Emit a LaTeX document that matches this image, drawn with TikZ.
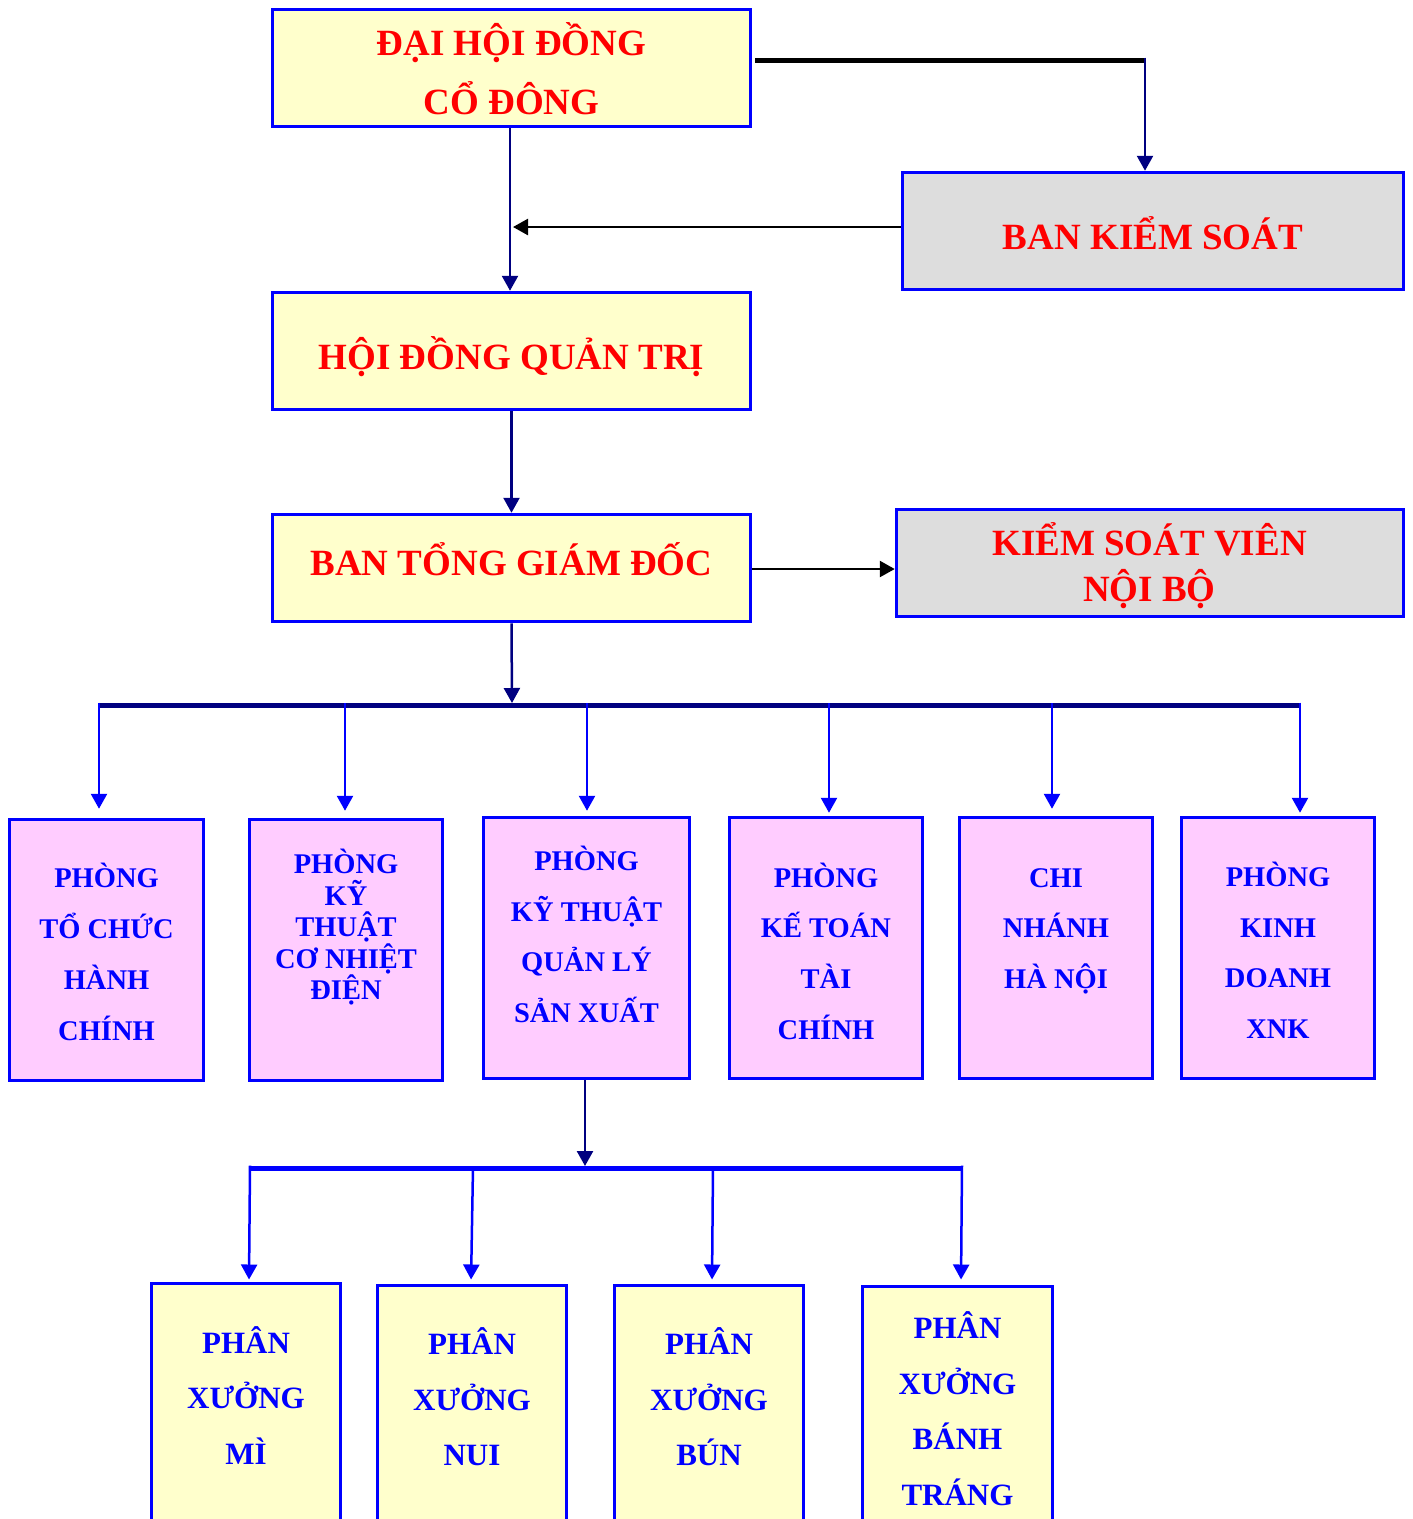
\documentclass[tikz,border=0pt]{standalone}
\usepackage{fontspec}
\setmainfont{Liberation Serif}
\usetikzlibrary{arrows.meta}
\definecolor{boxyellow}{HTML}{FFFFCC}
\definecolor{boxgray}{HTML}{DDDDDD}
\definecolor{boxpink}{HTML}{FFCCFF}
\definecolor{navyline}{HTML}{000080}
\definecolor{txtred}{HTML}{FF0000}
\definecolor{bblue}{HTML}{0000FF}
\newcommand{\nolsl}{\lineskiplimit=-100pt\relax}
\tikzset{
  boxbase/.style={draw=bblue, line width=3.5pt, inner sep=0pt, rectangle},
  ybox/.style={boxbase, fill=boxyellow},
  gbox/.style={boxbase, fill=boxgray},
  pbox/.style={boxbase, fill=boxpink},
  redtxt/.style={text=txtred, align=center, inner sep=0pt, font=\bfseries\fontsize{37}{#1}\selectfont\nolsl},
  bluetxt/.style 2 args={text=bblue, align=center, inner sep=0pt, font=\bfseries\fontsize{#1}{#2}\selectfont\nolsl},
  tip/.style={-{Triangle[length=15pt,width=16pt]}},
  navyarrow/.style={tip, draw=navyline, line width=2.5pt},
  bluearrow/.style={tip, draw=bblue, line width=2.5pt},
  blackarrow/.style={tip, draw=black, line width=2.5pt},
  navybus/.style={draw=navyline, line width=5pt},
  bluebus/.style={draw=bblue, line width=5pt},
  blackbar/.style={draw=black, line width=5pt},
}
\begin{document}
\begin{tikzpicture}[x=1pt,y=-1pt]
\useasboundingbox (0,0) rectangle (1413,1519);
\clip (0,0) rectangle (1413,1519);

% top boxes
\node[ybox, minimum width=478pt, minimum height=117pt] (dh) at (511.5,68) {};
\node[redtxt=59] (dht) at (511.5,73) {\strut ĐẠI HỘI ĐỒNG\\\strut CỔ ĐÔNG};

\node[gbox, minimum width=501pt, minimum height=117pt] (bks) at (1153,231) {};
\node[redtxt=45] (bkst) at (1153,240) {\strut BAN KIỂM SOÁT};

\node[ybox, minimum width=478pt, minimum height=117pt] (hd) at (511.5,351) {};
\node[redtxt=45] (hdt) at (511.5,360) {\strut HỘI ĐỒNG QUẢN TRỊ};

\node[ybox, minimum width=478pt, minimum height=107pt] (bt) at (511.5,568) {};
\node[redtxt=45] (btt) at (511.5,566) {\strut BAN TỔNG GIÁM ĐỐC};

\node[gbox, minimum width=507pt, minimum height=107pt] (ks) at (1150,563) {};
\node[redtxt=46] (kst) at (1149.5,568.5) {\strut KIỂM SOÁT VIÊN\\\strut NỘI BỘ};

% pink row
\node[pbox, minimum width=194pt, minimum height=261pt] (p1) at (106.5,950) {};
\node[bluetxt={28.5}{51}] (p1t) at (106.5,953.7) {\strut PHÒNG\\\strut TỔ CHỨC\\\strut HÀNH\\\strut CHÍNH};

\node[pbox, minimum width=193pt, minimum height=261pt] (p2) at (346,950) {};
\node[bluetxt={28.5}{31.5}] (p2t) at (346,929) {\strut PHÒNG\\\strut KỸ\\\strut THUẬT\\\strut CƠ NHIỆT\\\strut ĐIỆN};

\node[pbox, minimum width=206pt, minimum height=261pt] (p3) at (586.5,948) {};
\node[bluetxt={28.5}{50.7}] (p3t) at (586.5,936.3) {\strut PHÒNG\\\strut KỸ THUẬT\\\strut QUẢN LÝ\\\strut SẢN XUẤT};

\node[pbox, minimum width=193pt, minimum height=261pt] (p4) at (826,948) {};
\node[bluetxt={28.5}{50.7}] (p4t) at (826,953) {\strut PHÒNG\\\strut KẾ TOÁN\\\strut TÀI\\\strut CHÍNH};

\node[pbox, minimum width=193pt, minimum height=261pt] (p5) at (1056,948) {};
\node[bluetxt={28.5}{50.7}] (p5t) at (1056,927.6) {\strut CHI\\\strut NHÁNH\\\strut HÀ NỘI};

\node[pbox, minimum width=193pt, minimum height=261pt] (p6) at (1278,948) {};
\node[bluetxt={28.5}{50.7}] (p6t) at (1278,952.3) {\strut PHÒNG\\\strut KINH\\\strut DOANH\\\strut XNK};

% bottom row
\node[ybox, anchor=north, minimum width=189pt, minimum height=238pt] (q1) at (246,1281.5) {};
\node[bluetxt={31}{55.5}] (q1t) at (246,1397.5) {\strut PHÂN\\\strut XƯỞNG\\\strut MÌ};

\node[ybox, anchor=north, minimum width=189pt, minimum height=238pt] (q2) at (472,1283.5) {};
\node[bluetxt={31}{55.5}] (q2t) at (472,1399) {\strut PHÂN\\\strut XƯỞNG\\\strut NUI};

\node[ybox, anchor=north, minimum width=189pt, minimum height=238pt] (q3) at (709,1283.5) {};
\node[bluetxt={31}{55.5}] (q3t) at (709,1399) {\strut PHÂN\\\strut XƯỞNG\\\strut BÚN};

\node[ybox, anchor=north, minimum width=190pt, minimum height=238pt] (q4) at (957.5,1284.5) {};
\node[bluetxt={31}{55.5}] (q4t) at (957.5,1410.7) {\strut PHÂN\\\strut XƯỞNG\\\strut BÁNH\\\strut TRÁNG};

% coordinates
\coordinate (c1) at (1145,60);
\coordinate (m1) at (513,227);
\coordinate (busL) at (99,705);
\coordinate (busR) at (1300,705);
\coordinate (d2) at (345,703);
\coordinate (d3) at (587,703);
\coordinate (d4) at (829,703);
\coordinate (d5) at (1052,703);
\coordinate (busb) at (512,703);
\coordinate (bus2L) at (251,1168);
\coordinate (bus2R) at (962,1168);
\coordinate (e2) at (473,1167);
\coordinate (e3) at (713,1167);
\coordinate (bus2t) at (585,1166);

% connectors top
\draw[blackbar] ([xshift=3pt,yshift=8pt]dh.east) -- (c1);
\draw[navyarrow] ([yshift=2.5pt]c1) -- (c1 |- bks.north);
\draw[navyarrow] (dh.south -| 510,0) -- (hd.north -| 510,0);
\draw[blackarrow] ([yshift=4pt]bks.west) -- (m1);
\draw[navyarrow] (hd.south) -- (bt.north);
\draw[blackarrow] ([yshift=-1pt]bt.east) -- ([yshift=-1pt]bt.east -| ks.west);
\draw[navyarrow] (bt.south) -- (busb);

% bus 1
\draw[navybus] (busL) -- (busR);
\draw[bluearrow, shorten >=9pt] ([yshift=2.5pt]busL) -- (busL |- p1.north);
\draw[bluearrow, shorten >=7pt] (d2) -- (d2 |- p2.north);
\draw[bluearrow, shorten >=5pt] (d3) -- (d3 |- p3.north);
\draw[bluearrow, shorten >=3pt] (d4) -- (d4 |- p4.north);
\draw[bluearrow, shorten >=7pt] (d5) -- (d5 |- p5.north);
\draw[bluearrow, shorten >=3pt] ([yshift=2.5pt]busR) -- (busR |- p6.north);

% bus 2
\draw[navyarrow] (p3.south -| bus2t) -- (bus2t);
\draw[bluebus] (bus2L) -- (bus2R);
\draw[bluearrow, shorten >=2pt] ([xshift=-1pt,yshift=2.5pt]bus2L) -- (q1.north -| 249,0);
\draw[bluearrow, shorten >=4pt] (e2) -- (q2.north -| 471,0);
\draw[bluearrow, shorten >=4pt] (e3) -- (q3.north -| 712,0);
\draw[bluearrow, shorten >=5pt] ([yshift=2.5pt]bus2R) -- (q4.north -| 961,0);
\end{tikzpicture}
\end{document}
